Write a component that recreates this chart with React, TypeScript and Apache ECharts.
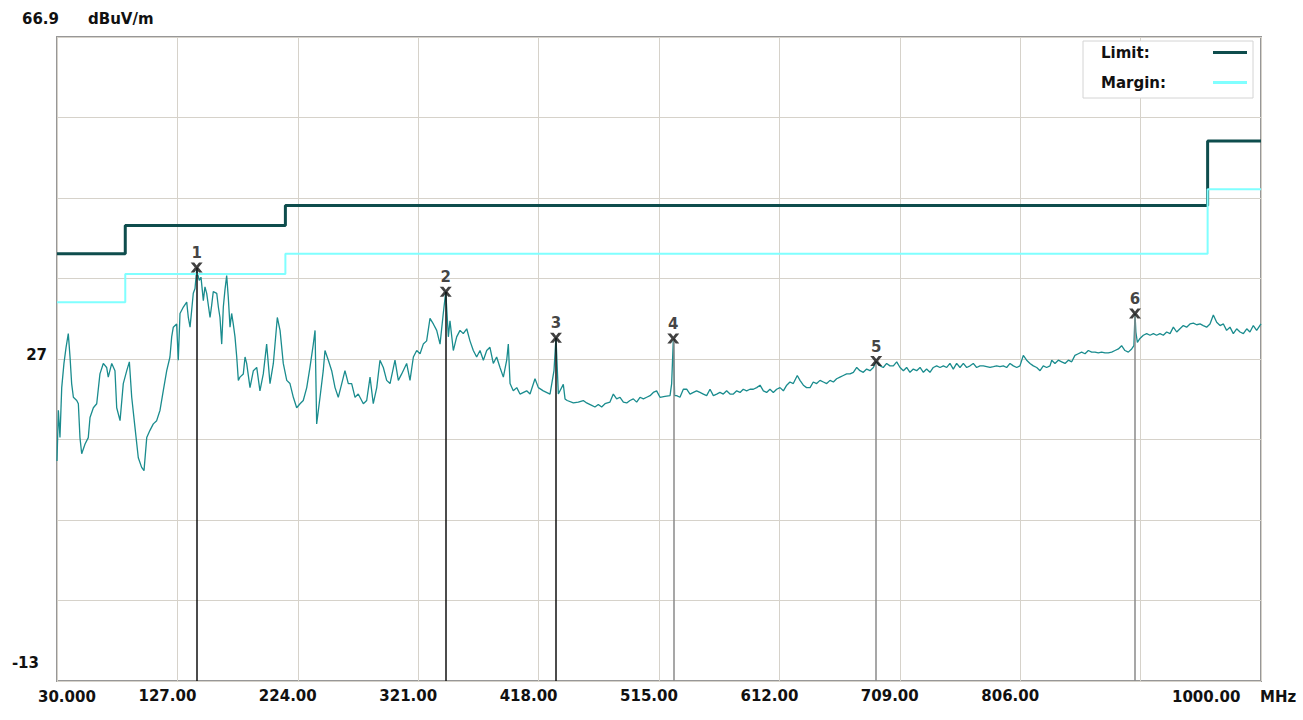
import React, { useEffect, useRef } from "react";
import * as echarts from "echarts";

const FONT = "'DejaVu Sans', Verdana, sans-serif";

// X grid: 30 MHz .. 1000 MHz in 10 divisions, Y grid: -13 .. 66.9 dBuV/m in 8 divisions
const xTickLabels = ["30.000", "127.00", "224.00", "321.00", "418.00", "515.00", "612.00", "709.00", "806.00", "", "1000.00"];
const xMin = 30;
const xMax = 1000;
const yMin = -13;
const yMax = 66.9;

// Limit and margin (step lines)
const limitFreq = [30, 85, 85, 214, 214, 957, 957, 1000];
const limitLevel = [40, 40, 43.5, 43.5, 46, 46, 54, 54];
const marginLevel = [34, 34, 37.5, 37.5, 40, 40, 48, 48];

// Markers
const markerFreq = [142.5, 343.2, 432.0, 526.5, 690.0, 898.5];
const markerLevel = [38.3, 35.3, 29.6, 29.5, 26.7, 32.6];
const markerColor = ["#111111", "#111111", "#111111", "#8a8a8a", "#8a8a8a", "#8a8a8a"];

// Measured trace [MHz, dBuV/m]
const trace: number[][] = [
  [30.0, 14.3], [31.1, 20.6], [32.4, 17.2], [33.8, 23.4], [35.6, 26.4], [37.3, 28.4], [39.1, 30.1], [40.5, 27.2],
  [41.8, 23.9], [43.2, 22.2], [45.9, 21.8], [47.2, 21.4], [48.5, 17.2], [49.9, 15.2], [52.6, 16.4], [55.2, 17.2],
  [56.6, 19.7], [59.3, 20.9], [62.0, 21.4], [64.6, 25.1], [67.3, 26.4], [70.0, 25.9], [71.3, 24.7], [74.1, 26.4],
  [76.7, 25.5], [78.1, 20.9], [80.8, 19.3], [83.4, 23.9], [86.2, 25.5], [88.3, 26.6], [90.2, 22.2], [92.8, 18.5],
  [95.5, 14.7], [98.2, 13.5], [100.1, 13.1], [102.3, 17.2], [104.9, 18.1], [107.6, 18.9], [110.3, 19.3], [113.0, 20.6],
  [115.6, 23.0], [118.4, 25.5], [121.0, 27.2], [122.4, 29.7], [123.7, 30.9], [126.4, 31.3], [127.7, 26.8], [129.1, 32.6],
  [131.8, 33.4], [134.5, 34.0], [135.8, 32.1], [137.2, 30.9], [138.5, 33.0], [139.8, 35.1], [141.2, 35.7], [142.5, 38.0],
  [144.6, 36.7], [146.0, 37.1], [147.9, 34.2], [149.2, 35.9], [150.6, 35.1], [153.3, 32.1], [154.6, 33.6], [155.9, 35.3],
  [158.7, 35.1], [160.0, 33.4], [161.3, 32.1], [162.7, 28.8], [164.0, 33.4], [165.3, 35.5], [166.7, 37.3], [168.0, 34.6],
  [169.4, 30.9], [170.7, 32.6], [172.0, 31.3], [173.4, 29.7], [174.8, 27.2], [176.1, 24.3], [177.4, 24.7], [180.1, 25.1],
  [181.5, 27.2], [182.8, 26.4], [185.5, 23.4], [188.2, 25.5], [190.9, 25.9], [193.5, 23.0], [196.2, 25.1], [198.9, 28.8],
  [201.6, 23.9], [204.3, 26.4], [207.5, 32.1], [209.7, 30.5], [212.3, 26.4], [215.1, 24.3], [217.7, 23.9], [220.4, 22.2],
  [223.1, 20.9], [225.8, 21.4], [228.4, 21.8], [231.2, 23.4], [233.8, 25.9], [236.5, 28.8], [237.9, 30.5], [239.2, 18.9],
  [241.9, 22.2], [244.5, 25.5], [245.9, 28.0], [248.6, 26.8], [251.3, 25.5], [254.0, 23.4], [256.6, 22.2],
  [259.4, 23.9], [262.0, 25.5], [264.7, 23.9], [267.4, 23.9], [270.1, 22.2], [272.7, 22.6], [276.8, 21.4], [279.5, 21.8],
  [282.2, 24.7], [284.8, 21.4], [287.6, 23.4], [290.2, 26.8], [292.9, 25.9], [295.6, 24.3], [298.3, 23.9], [302.3, 26.8],
  [305.0, 24.3], [307.7, 25.1], [311.7, 26.4], [314.4, 24.3], [317.1, 27.2], [319.8, 28.0], [322.5, 27.6], [325.1, 28.8],
  [327.8, 29.2], [330.5, 32.0], [333.2, 31.3], [335.9, 30.5], [338.6, 28.8], [341.2, 32.6], [343.2, 35.3], [345.3, 29.7],
  [346.6, 31.7], [349.3, 28.0], [352.0, 29.7], [354.7, 30.5], [357.3, 30.1], [360.1, 30.7], [362.7, 29.2], [365.4, 28.0],
  [368.1, 27.2], [370.8, 28.0], [373.5, 26.8], [376.2, 28.0], [378.8, 28.4], [381.5, 26.4], [384.2, 27.2], [386.9, 25.9],
  [389.6, 24.7], [392.3, 26.8], [393.6, 28.8], [395.0, 23.9], [397.6, 23.0], [400.4, 23.4], [403.0, 22.6], [408.4, 23.0],
  [411.1, 22.6], [415.1, 24.5], [417.8, 23.4], [421.8, 23.0], [427.2, 22.6], [430.4, 25.5], [432.0, 29.6], [433.9, 22.6],
  [437.9, 23.8], [439.3, 22.0], [441.0, 21.8], [446.0, 21.5], [450.0, 21.6], [454.0, 21.8], [456.7, 21.5], [460.8, 21.2],
  [463.4, 21.0], [466.1, 21.3], [468.8, 21.0], [471.5, 21.4], [475.5, 21.6], [478.2, 22.6], [480.9, 22.0], [483.6, 22.2],
  [486.3, 21.6], [489.0, 21.5], [491.6, 21.8], [494.3, 22.0], [497.0, 21.6], [499.7, 22.2], [502.4, 22.0], [505.1, 22.2],
  [507.8, 22.4], [510.4, 22.8], [513.1, 23.0], [515.8, 22.2], [519.8, 22.3], [523.9, 22.4], [525.2, 23.9], [526.5, 29.2],
  [527.6, 22.4], [529.2, 22.4], [531.9, 22.2], [534.6, 23.2], [537.3, 23.2], [540.0, 22.6], [542.7, 22.8], [545.3, 23.0],
  [548.0, 22.8], [550.7, 22.6], [553.4, 22.4], [556.1, 23.2], [558.8, 22.4], [561.5, 22.6], [564.1, 22.8], [566.8, 22.6],
  [569.5, 23.0], [572.2, 22.6], [574.9, 22.6], [577.6, 23.0], [580.3, 22.8], [582.9, 23.2], [585.6, 23.0], [588.3, 23.2],
  [591.0, 23.2], [593.7, 23.4], [596.4, 23.7], [599.1, 23.0], [601.7, 22.8], [604.4, 23.2], [607.1, 22.8], [609.8, 23.2],
  [612.5, 23.4], [615.2, 23.0], [617.9, 23.7], [620.5, 24.1], [623.2, 23.9], [626.4, 24.9], [628.6, 24.3], [631.3, 23.7],
  [633.9, 23.4], [636.7, 23.4],
  [639.3, 24.1], [642.0, 23.9], [644.7, 24.3], [647.4, 24.1], [650.1, 23.9], [652.8, 24.3], [655.5, 24.1], [658.1, 24.5],
  [660.8, 24.7], [663.5, 24.9], [666.2, 25.1], [668.9, 25.1], [671.6, 25.3], [674.3, 25.9], [676.9, 25.5], [679.6, 25.3],
  [682.3, 25.7], [685.0, 25.5], [687.7, 25.9], [690.0, 26.6], [693.1, 26.1], [695.7, 25.9], [698.4, 26.4], [701.1, 26.1],
  [703.8, 26.1], [706.5, 26.6], [709.2, 25.9], [711.9, 25.5], [714.5, 25.9], [717.2, 25.3], [719.9, 25.7], [722.6, 25.5],
  [725.3, 25.9], [728.0, 25.3], [730.6, 25.7], [733.3, 25.3], [736.0, 25.9], [738.7, 26.1], [741.4, 25.9], [744.1, 26.1],
  [746.8, 25.9], [749.4, 26.4], [752.1, 25.7], [754.8, 26.4], [757.5, 25.9], [760.2, 26.4], [762.9, 25.9], [765.6, 26.1],
  [768.2, 26.4], [770.9, 25.9], [773.6, 26.1], [776.3, 26.1], [779.0, 26.0], [781.7, 25.9], [784.4, 26.0], [787.0, 26.1],
  [789.7, 26.0], [792.4, 26.1], [795.1, 25.9], [797.8, 26.4], [800.5, 26.1], [803.2, 25.9], [805.8, 26.1], [808.5, 27.4],
  [811.2, 26.8], [813.9, 26.4], [816.6, 26.1], [819.3, 25.9], [822.0, 25.5], [824.6, 26.1], [827.3, 25.9], [830.0, 26.1],
  [831.4, 26.8], [834.0, 26.4], [836.7, 26.8], [839.4, 26.6], [842.1, 26.4], [844.8, 26.8], [847.5, 26.6], [850.1, 27.4],
  [852.8, 27.6], [855.5, 27.8], [858.2, 27.6], [860.9, 28.0], [863.6, 27.8], [866.3, 27.8], [868.9, 27.7], [871.6, 27.8],
  [874.3, 27.7], [877.0, 27.7], [879.7, 27.8], [882.4, 28.0], [885.1, 28.2], [887.7, 28.6], [890.4, 28.0], [893.1, 27.8],
  [895.8, 28.2], [897.6, 28.6], [898.5, 32.6], [899.2, 30.3], [900.4, 29.0], [902.5, 29.5], [905.2, 29.9], [907.9, 30.1],
  [910.6, 29.9], [913.3, 30.1], [915.9, 29.9], [918.6, 30.1], [921.3, 29.9], [924.0, 30.3], [926.7, 30.1], [929.4, 30.9],
  [932.1, 30.3], [934.7, 30.7], [937.4, 31.1], [940.1, 30.9], [942.8, 31.3], [945.5, 31.4], [948.2, 31.2], [950.9, 31.3],
  [953.5, 31.1], [956.2, 30.9], [958.9, 31.3], [961.6, 32.4], [964.3, 31.5], [967.0, 31.1], [969.7, 31.3], [972.3, 30.5],
  [975.0, 30.9], [977.7, 30.1], [980.4, 30.7], [983.1, 30.3], [985.8, 30.1], [988.5, 30.7], [991.1, 30.3], [993.8, 31.1],
  [996.5, 30.5], [1000.0, 31.3],
];

const X_PATH = "path://M0,0L3.6,0L6,3.1L8.4,0L12,0L7.9,5L12,10L8.4,10L6,6.9L3.6,10L0,10L4.1,5Z";

const txt = (text: string, x: number, y: number, align: string) => ({
  type: "text",
  x,
  y,
  silent: true,
  style: {
    text,
    fill: "#111",
    fontFamily: FONT,
    fontSize: 15,
    fontWeight: "bold",
    align,
    verticalAlign: "middle",
    textAlign: align,
    textVerticalAlign: "middle",
  },
});

export default function App() {
  const ref = useRef<HTMLDivElement>(null);

  useEffect(() => {
    if (!ref.current) return;
    const chart = echarts.init(ref.current, undefined, { renderer: "svg" });
    const labelStyle = { fontFamily: FONT, fontSize: 15, fontWeight: "bold" as const, color: "#111" };

    chart.setOption({
      animation: false,
      backgroundColor: "#ffffff",
      grid: {
        left: 57,
        top: 37,
        width: 1204,
        height: 644,
        show: true,
        borderColor: "#979797",
        borderWidth: 2,
        backgroundColor: "#ffffff",
      },
      legend: {
        left: 1083,
        top: 41,
        orient: "vertical",
        align: "right",
        backgroundColor: "#ffffff",
        borderColor: "#d4d4d4",
        borderWidth: 1,
        padding: [4, 6, 8, 18],
        itemGap: 15,
        itemWidth: 34,
        itemHeight: 3,
        selectedMode: false,
        formatter: (name: string) => `{t|${name}}`,
        textStyle: { ...labelStyle, rich: { t: { ...labelStyle, width: 107, align: "left" } } },
        data: [
          { name: "Limit:", icon: "rect" },
          { name: "Margin:", icon: "rect" },
        ],
      },
      xAxis: [
        { type: "value", min: xMin, max: xMax, show: false },
        {
          type: "value",
          min: 0,
          max: 10,
          interval: 1,
          position: "bottom",
          axisLine: { show: false },
          axisTick: { show: false },
          splitLine: { show: true, lineStyle: { color: "#d6d2ca", width: 1 } },
          axisLabel: {
            ...labelStyle,
            margin: 7,
            padding: [0, 20, 0, 0],
            showMinLabel: false,
            showMaxLabel: false,
            formatter: (v: number) => xTickLabels[Math.round(v)] ?? "",
          },
        },
      ],
      yAxis: [
        { type: "value", min: yMin, max: yMax, show: false },
        {
          type: "value",
          min: 0,
          max: 8,
          interval: 1,
          axisLine: { show: false },
          axisTick: { show: false },
          axisLabel: { show: false },
          splitLine: { show: true, lineStyle: { color: "#d6d2ca", width: 1 } },
        },
      ],
      series: [
        {
          type: "line",
          name: "markerLines",
          xAxisIndex: 0,
          yAxisIndex: 0,
          data: [],
          z: 1,
          markLine: {
            silent: true,
            symbol: ["none", "none"],
            label: { show: false },
            data: markerFreq.map((f, i) => [
              { coord: [f, markerLevel[i]], lineStyle: { color: markerColor[i], width: 1.5, type: "solid" } },
              { coord: [f, yMin] },
            ]),
          },
        },
        {
          type: "line",
          name: "trace",
          xAxisIndex: 0,
          yAxisIndex: 0,
          data: trace,
          symbol: "none",
          z: 3,
          lineStyle: { color: "#1a8c8e", width: 1.3 },
        },
        {
          type: "line",
          name: "Limit:",
          xAxisIndex: 0,
          yAxisIndex: 0,
          data: limitFreq.map((f, i) => [f, limitLevel[i]]),
          symbol: "none",
          z: 4,
          color: "#0e4d4d",
          itemStyle: { color: "#0e4d4d" },
          lineStyle: { color: "#0e4d4d", width: 3 },
        },
        {
          type: "line",
          name: "Margin:",
          xAxisIndex: 0,
          yAxisIndex: 0,
          data: limitFreq.map((f, i) => [f, marginLevel[i]]),
          symbol: "none",
          z: 4,
          color: "#80ffff",
          itemStyle: { color: "#80ffff" },
          lineStyle: { color: "#80ffff", width: 2 },
        },
        {
          type: "scatter",
          name: "markers",
          xAxisIndex: 0,
          yAxisIndex: 0,
          data: markerFreq.map((f, i) => [f, markerLevel[i]]),
          symbol: X_PATH,
          symbolSize: [12, 10],
          z: 5,
          itemStyle: { color: "#111" },
          label: {
            show: true,
            position: "top",
            distance: 2,
            ...labelStyle,
            formatter: (p: any) => String(p.dataIndex + 1),
          },
        },
      ],
      graphic: [
        txt("66.9", 22, 19, "left"),
        txt("dBuV/m", 88, 19, "left"),
        txt("27", 47, 355, "right"),
        txt("-13", 39, 663, "right"),
        txt("30.000", 38, 697, "left"),
        txt("1000.00", 1172, 697, "left"),
        txt("MHz", 1260, 697, "left"),
      ],
    });

    return () => chart.dispose();
  }, []);

  return <div ref={ref} style={{ position: "absolute", left: 0, top: 0, width: 1303, height: 720 }} />;
}
